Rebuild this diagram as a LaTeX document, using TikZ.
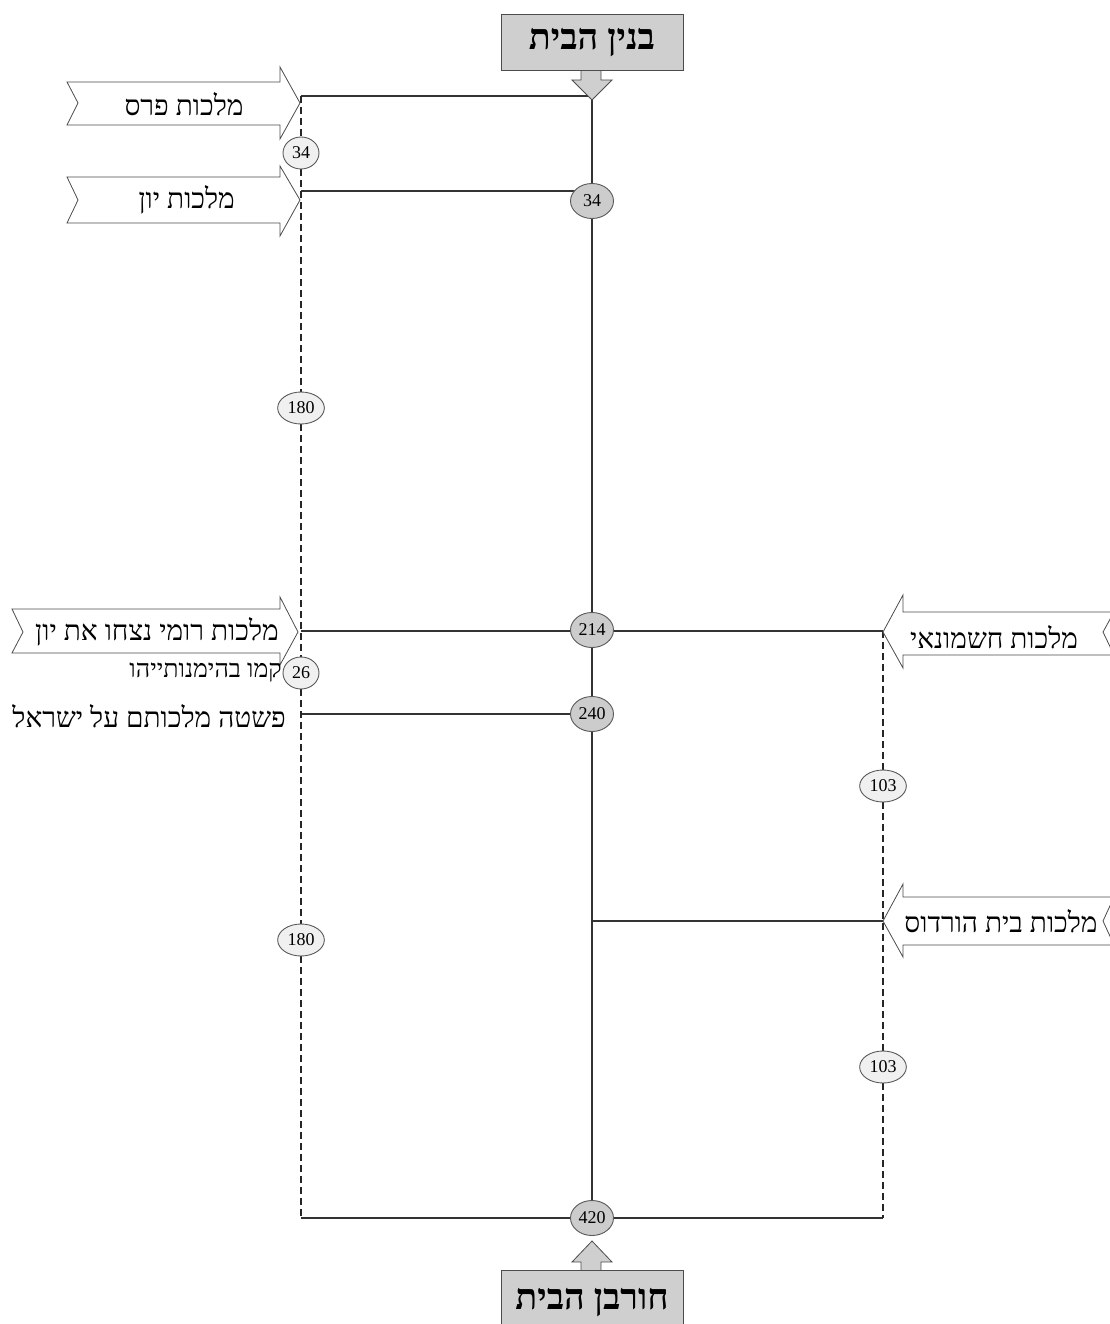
\documentclass[tikz,border=0pt]{standalone}
\usepackage{fontspec}
\usetikzlibrary{shapes.geometric,backgrounds}
\TeXXeTstate=1
\newfontfamily\heb[Script=Hebrew]{Liberation Serif}
\newfontfamily\numf{Liberation Serif}
\begin{document}
\begin{tikzpicture}[x=1pt,y=-1pt,
  side/.style={ellipse,draw=gray!70!black,line width=0.9pt,fill=gray!12,minimum width=36pt,minimum height=32pt,inner sep=1pt,font=\numf\fontsize{18}{18}\selectfont},
  mainc/.style={side,fill=gray!40,minimum width=43pt,minimum height=35pt},
  conn/.style={line width=1.2pt,draw=black!80},
  dashline/.style={line width=1.6pt,dash pattern=on 7pt off 4pt,draw=black!85},
  arr/.style={draw=gray!60!black,line width=0.8pt,fill=white},
  boxgray/.style={draw=gray!60!black,line width=1pt,fill=gray!38},
  lbl/.style={font=\heb\fontsize{28}{30}\selectfont,inner sep=0pt},
  small/.style={font=\heb\fontsize{25}{27}\selectfont,inner sep=0pt},
  boxlbl/.style={font=\heb\bfseries\fontsize{36}{38}\selectfont}
]
\useasboundingbox (0,0) rectangle (1110,1324);
\clip (0,0) rectangle (1110,1324);

% coordinates
\coordinate (topTip) at (592,100);
\coordinate (botTip) at (592,1241);
\coordinate (lt) at (301,96);
\coordinate (lb) at (301,1218);
\coordinate (ly) at (301,191);
\coordinate (lr) at (301,631);
\coordinate (lp) at (301,714);
\coordinate (rt) at (883,631);
\coordinate (rh) at (883,921);
\coordinate (rb) at (883,1218);
\coordinate (mh) at (592,921);

% arrows on the left (pointing right)
\draw[arr] (67,82) -- (280,82) -- (280,67) -- (300,103) -- (280,139) -- (280,125) -- (67,125) -- (78,103) -- cycle;
\draw[arr] (67,177) -- (280,177) -- (280,166) -- (300,200) -- (280,236) -- (280,223) -- (67,223) -- (78,200) -- cycle;
\draw[arr] (12,609) -- (280,609) -- (280,597) -- (298,632) -- (280,665) -- (280,653) -- (12,653) -- (23,632) -- cycle;
% arrows on the right (pointing left)
\draw[arr] (1114,612) -- (903,612) -- (903,595) -- (883,632) -- (903,668) -- (903,655) -- (1114,655) -- (1103,632) -- cycle;
\draw[arr] (1114,897) -- (903,897) -- (903,884) -- (883,921) -- (903,957) -- (903,945) -- (1114,945) -- (1103,921) -- cycle;

% top and bottom boxes with their arrows
\fill[gray!38] (581,68) -- (581,80) -- (572,80) -- (592,100) -- (612,80) -- (601,80) -- (601,68) -- cycle;
\draw[draw=gray!60!black,line width=0.8pt] (581,71) -- (581,80) -- (572,80) -- (592,100) -- (612,80) -- (601,80) -- (601,71);
\node[boxgray,boxlbl,minimum width=182pt,minimum height=56pt] (build) at (592,43) {\beginR בנין הבית\endR};

\fill[gray!38] (581,1273) -- (581,1262) -- (572,1262) -- (592,1241) -- (612,1262) -- (601,1262) -- (601,1273) -- cycle;
\draw[draw=gray!60!black,line width=0.8pt] (581,1270) -- (581,1262) -- (572,1262) -- (592,1241) -- (612,1262) -- (601,1262) -- (601,1270);
\node[boxgray,boxlbl,minimum width=182pt,minimum height=64pt,anchor=north] (destr) at (592,1270) {\raisebox{7pt}{\beginR חורבן הבית\endR}};

% circles
\node[mainc] (m34) at (592,201) {34};
\node[mainc] (m214) at (592,630) {214};
\node[mainc] (m240) at (592,714) {240};
\node[mainc] (m420) at (592,1218) {420};
\node[side] (l34) at (301,153) {34};
\node[side,inner xsep=3pt] (l180a) at (301,408) {180};
\node[side] (l26) at (301,673) {26};
\node[side,inner xsep=3pt] (l180b) at (301,940) {180};
\node[side,inner xsep=3pt] (r103a) at (883,786) {103};
\node[side,inner xsep=3pt] (r103b) at (883,1067) {103};

% connectors
\begin{scope}[on background layer]
\draw[conn] (topTip) -- (m34) -- (m214) -- (m240) -- (m420);
\draw[conn] (lt) -- (topTip |- lt);
\draw[conn] (ly) -- (m34.center |- ly);
\draw[conn] (lr) -- (rt);
\draw[conn] (lp) -- (m240);
\draw[conn] (mh) -- (rh);
\draw[conn] (lb) -- (rb);
\draw[dashline] (lt) -- (l34) -- (l180a) -- (l26) -- (l180b) -- (lb);
\draw[dashline] (rt) -- (r103a) -- (r103b) -- (rb);
\end{scope}

% labels
\node[lbl] (persia) at (184,104) {\beginR מלכות פרס\endR};
\node[lbl,anchor=east] (yavan) at (235,200) {\beginR מלכות יון\endR};
\node[lbl] (romi) at (157,632) {\beginR מלכות רומי נצחו את יון\endR};
\node[small,anchor=east] (kamu) at (282,673) {\beginR קמו בהימנותייהו\endR};
\node[lbl,anchor=east] (pashta) at (286,716) {\beginR פשטה מלכותם על ישראל\endR};
\node[lbl] (hashm) at (994,637) {\beginR מלכות חשמונאי\endR};
\node[lbl] (hord) at (1001,921) {\beginR מלכות בית הורדוס\endR};
\end{tikzpicture}
\end{document}
